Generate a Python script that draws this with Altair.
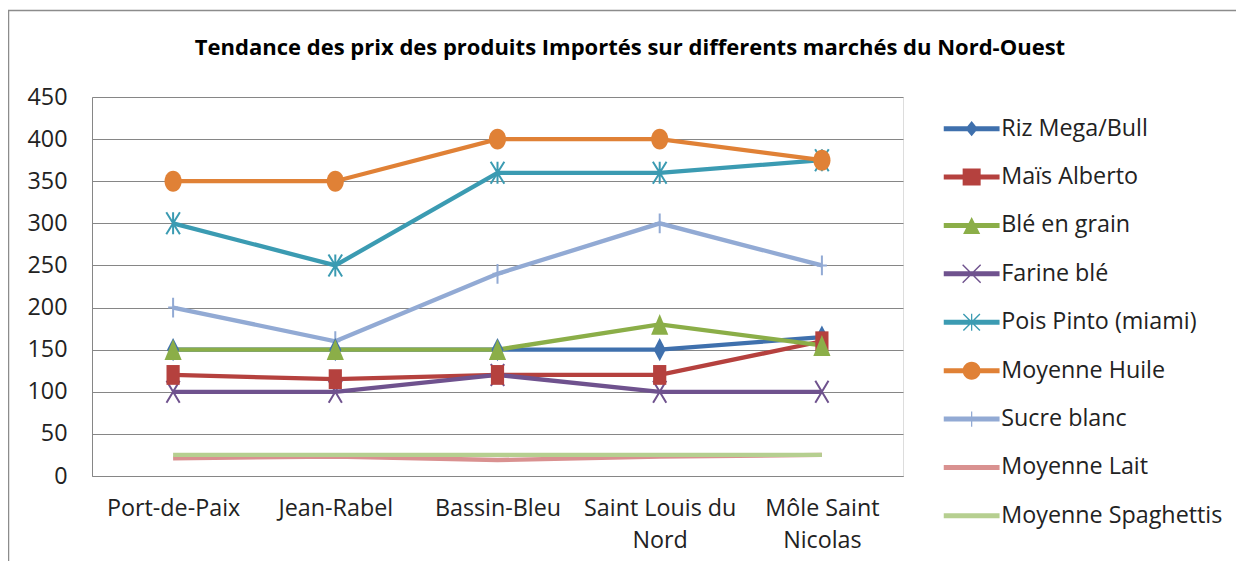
import altair as alt
import pandas as pd

# ---------------- data ----------------
markets = ["Port-de-Paix", "Jean-Rabel", "Bassin-Bleu", "Saint Louis du Nord", "Môle Saint Nicolas"]
series = ["Riz Mega/Bull", "Maïs Alberto", "Blé en grain", "Farine blé", "Pois Pinto (miami)",
          "Moyenne Huile", "Sucre blanc", "Moyenne Lait", "Moyenne Spaghettis"]
riz = [150, 150, 150, 150, 165]
mais = [120, 115, 120, 120, 160]
ble = [150, 150, 150, 180, 155]
farine = [100, 100, 120, 100, 100]
pois = [300, 250, 360, 360, 375]
huile = [350, 350, 400, 400, 375]
sucre = [200, 160, 240, 300, 250]
lait = [21, 23, 19, 23, 25]
spaghettis = [25, 25, 25, 25, 25]
y_ticks = [0, 50, 100, 150, 200, 250, 300, 350, 400, 450]
title_text = "Tendance des prix des produits Importés sur differents marchés du Nord-Ouest"

colors = ["#3F70AD", "#B5413E", "#8BAE48", "#6F528E", "#3B9BB2",
          "#E08136", "#92AAD4", "#D99190", "#B6CF90"]

all_vals = [riz, mais, ble, farine, pois, huile, sucre, lait, spaghettis]
rows = []
for s, vals in zip(series, all_vals):
    for m, v in zip(markets, vals):
        rows.append({"series": s, "market": m, "price": v})
df = pd.DataFrame(rows)

filled_series = ["Riz Mega/Bull", "Maïs Alberto", "Blé en grain", "Moyenne Huile"]
stroke_series = ["Farine blé", "Pois Pinto (miami)", "Sucre blanc"]

# ---------------- marker shapes (style) ----------------
filled_paths = [
    "M0,-1.05L0.55,0L0,1.05L-0.55,0Z",
    "M-0.6,-0.9H0.6V0.9H-0.6Z",
    "M0,-0.95L0.78,0.95H-0.78Z",
    "M0,-0.95A0.78,0.95 0 1,1 0,0.95A0.78,0.95 0 1,1 0,-0.95Z",
]
stroke_paths = [
    "M-0.6,-1L0.6,1M0.6,-1L-0.6,1",
    "M-0.62,-1L0.62,1M0.62,-1L-0.62,1M0,-1L0,1",
    "M-0.45,0H0.45M0,-0.9V0.9",
]

# legend symbols: line segment + marker, all drawn as filled polygons
LINE = "M-3.1,-0.28H3.1V0.28H-3.1Z"
def xbar(h=0.055, s=1.0):
    a = h
    p1 = f"M{-s+a:.3f},{-s-a:.3f}L{s+a:.3f},{s-a:.3f}L{s-a:.3f},{s+a:.3f}L{-s-a:.3f},{-s+a:.3f}Z"
    p2 = f"M{s-a:.3f},{-s-a:.3f}L{s+a:.3f},{-s+a:.3f}L{-s+a:.3f},{s+a:.3f}L{-s-a:.3f},{s-a:.3f}Z"
    return p1 + p2
def vbar(h=0.07, s=0.9):
    return f"M{-h},{-s}H{h}V{s}H{-h}Z"

legend_paths = [
    LINE + "M0,-0.85L0.7,0L0,0.85L-0.7,0Z",
    LINE + "M-1,-0.95H1V0.95H-1Z",
    LINE + "M0,-0.95L0.95,0.95H-0.95Z",
    LINE + xbar(),
    LINE + xbar(s=0.92) + vbar(s=0.95),
    LINE + "M0,-1A1,1 0 1,1 0,1A1,1 0 1,1 0,-1Z",
    LINE + vbar(s=0.85),
    LINE,
    LINE,
]

FONT = "Open Sans"
FS = 23.3
color_scale = alt.Scale(domain=series, range=colors)
x_enc = alt.X("market:N", sort=markets, scale=alt.Scale(type="point", padding=0.5),
              axis=alt.Axis(title=None, labelAngle=0, ticks=False, tickSize=0, grid=False,
                            labelPadding=21, labelFontSize=FS, labelFont=FONT,
                            labelColor="#222222", labelLineHeight=32, labelLimit=400,
                            domainColor="#868686", domainWidth=1,
                            labelExpr="datum.label == 'Saint Louis du Nord' ? ['Saint Louis du', 'Nord'] : "
                                      "datum.label == 'Môle Saint Nicolas' ? ['Môle Saint', 'Nicolas'] : datum.label"))
y_enc = alt.Y("price:Q", scale=alt.Scale(domain=[0, 450], nice=False),
              axis=alt.Axis(title=None, values=y_ticks, ticks=False, tickSize=0, grid=True,
                            gridColor="#868686", gridWidth=1, labelPadding=25,
                            labelFontSize=FS, labelFont=FONT, labelColor="#222222",
                            domainColor="#868686", domainWidth=1))

base = alt.Chart(df)

lines = base.mark_line(strokeWidth=4.3).encode(
    x=x_enc, y=y_enc,
    color=alt.Color("series:N", scale=color_scale, legend=None),
)

stroke_pts = base.transform_filter(
    alt.FieldOneOfPredicate(field="series", oneOf=stroke_series)
).mark_point(filled=False, opacity=1, size=484, strokeWidth=2).encode(
    x=x_enc, y=y_enc,
    color=alt.Color("series:N", scale=color_scale, legend=None),
    shape=alt.Shape("series:N", scale=alt.Scale(domain=stroke_series, range=stroke_paths), legend=None),
)

filled_pts = base.transform_filter(
    alt.FieldOneOfPredicate(field="series", oneOf=filled_series)
).mark_point(filled=True, opacity=1, size=484, strokeWidth=0).encode(
    x=x_enc, y=y_enc,
    color=alt.Color("series:N", scale=color_scale, legend=None),
    shape=alt.Shape("series:N", scale=alt.Scale(domain=filled_series, range=filled_paths), legend=None),
)

leg = dict(title=None, orient="none", legendX=868, legendY=20, symbolSize=324,
           symbolStrokeWidth=0, labelFontSize=FS, labelFont=FONT, labelColor="#222222",
           labelOffset=18, rowPadding=24.4, labelLimit=400, padding=0, symbolOpacity=1)

legend_layer = base.transform_filter("false").mark_point(filled=True, opacity=1, strokeWidth=0).encode(
    x=x_enc, y=y_enc,
    color=alt.Color("series:N", scale=color_scale, legend=alt.Legend(**leg)),
    shape=alt.Shape("series:N", scale=alt.Scale(domain=series, range=legend_paths),
                    legend=alt.Legend(**leg)),
)

frame_df = pd.DataFrame({"k": [0]})
frame_top = alt.Chart(frame_df).mark_rule(stroke="#8c8c8c", strokeWidth=1.5).encode(
    x=alt.value(-84), x2=alt.value(1300), y=alt.value(-86.5))
frame_left = alt.Chart(frame_df).mark_rule(stroke="#8c8c8c", strokeWidth=1.5).encode(
    x=alt.value(-83.5), y=alt.value(-87), y2=alt.value(700))

title_mark = alt.Chart(pd.DataFrame({"t": [title_text]})).mark_text(
    font=FONT, fontSize=22, fontWeight="bold", color="#000000",
    align="center", baseline="alphabetic"
).encode(text="t:N", x=alt.value(538), y=alt.value(-42))

chart = alt.layer(frame_top, frame_left, title_mark, lines, stroke_pts, filled_pts, legend_layer).resolve_scale(
    shape="independent", color="independent"
).properties(
    width=811, height=379,
    autosize=alt.AutoSizeParams(type="none"),
    padding={"left": 84, "top": 89, "right": 333, "bottom": 85},
).configure_view(stroke=None).configure(background="white")

chart.save("out.html", embed_options={"renderer": "svg", "actions": False})
